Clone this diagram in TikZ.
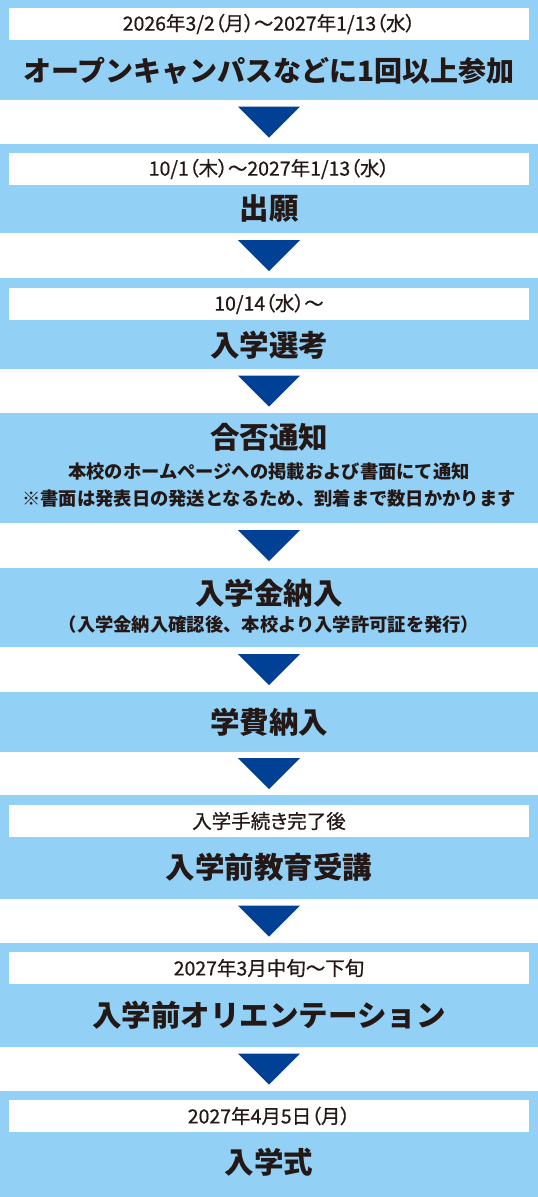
\documentclass[tikz,border=0pt]{standalone}
\usepackage{fontspec}
\setmainfont{Noto Sans CJK JP}
\newfontfamily\datefont[FakeBold=0.6,RawFeature=+palt]{Noto Sans CJK JP}
\usetikzlibrary{positioning,calc}
\definecolor{boxBlue}{HTML}{93D0F5}
\definecolor{arrowBlue}{HTML}{004095}
\definecolor{inkBlack}{HTML}{231815}

\begin{document}
\begin{tikzpicture}[x=1pt,y=-1pt,
	Box/.style={rectangle,fill=boxBlue,inner sep=0pt,minimum width=538pt},
	Strip/.style={rectangle,fill=white,inner sep=0pt,minimum width=520pt,minimum height=32pt,text=inkBlack,font=\datefont\fontsize{19.5}{21}\selectfont},
	Title/.style={inner sep=0pt,text=inkBlack,font=\fontsize{29.5}{32}\selectfont\bfseries},
	Note/.style={inner sep=0pt,text=inkBlack,font=\fontsize{18.3}{20}\selectfont\bfseries},
	Pointer/.style={fill=arrowBlue,draw=none},
]
	\useasboundingbox (0,0) rectangle (538,1197);
	%\draw[help lines,step=10,gray!20] (0,0) grid (538,1197);
	\node[Box,minimum height=100pt] (B1) at (269,50) {};
	\node[Box,minimum height=89pt] (B2) at (269,188.5) {};
	\node[Box,minimum height=91pt] (B3) at (269,323.5) {};
	\node[Box,minimum height=110pt] (B4) at (269,468) {};
	\node[Box,minimum height=79pt] (B5) at (269,607.5) {};
	\node[Box,minimum height=60pt] (B6) at (269,722) {};
	\node[Box,minimum height=104pt] (B7) at (269,847) {};
	\node[Box,minimum height=104pt] (B8) at (269,995) {};
	\node[Box,minimum height=106pt] (B9) at (269,1144) {};

	\node[Strip] (D1) at (269,24) {2026年3/2（月）〜2027年1/13（水）};
	\node[Title,font=\fontsize{28}{32}\selectfont\bfseries] (T1) at (269,71) {オープンキャンパスなどに1回以上参加};
	\node[Strip] (D2) at (269,169) {10/1（木）〜2027年1/13（水）};
	\node[Title] (T2) at (269,209) {出願};
	\node[Strip] (D3) at (269,304) {10/14（水）〜};
	\node[Title] (T3) at (269,345) {入学選考};
	\node[Title] (T4) at (269,437) {合否通知};
	\node[Note] (N4a) at (269,472) {本校のホームページへの掲載および書面にて通知};
	\node[Note] (N4b) at (269,499) {※書面は発表日の発送となるため、到着まで数日かかります};
	\node[Title] (T5) at (269,593) {入学金納入};
	\node[Note] (N5) at (269,625) {（入学金納入確認後、本校より入学許可証を発行）};
	\node[Title] (T6) at (269,722) {学費納入};
	\node[Strip] (D7) at (269,821) {入学手続き完了後};
	\node[Title] (T7) at (269,867) {入学前教育受講};
	\node[Strip] (D8) at (269,968) {2027年3月中旬〜下旬};
	\node[Title] (T8) at (269,1015) {入学前オリエンテーション};
	\node[Strip] (D9) at (269,1116) {2027年4月5日（月）};
	\node[Title] (T9) at (269,1162) {入学式};

	\foreach \a/\b in {B1/B2,B2/B3,B3/B4,B4/B5,B5/B6,B6/B7,B7/B8,B8/B9}{
		\coordinate (\a-\b) at ($(\a.south)!0.5!(\b.north)$);
		\fill[Pointer] (\a-\b) ++(-31,-15.5) -- ++(62,0) -- ++(-31,31) -- cycle;
	}
\end{tikzpicture}
\end{document}
